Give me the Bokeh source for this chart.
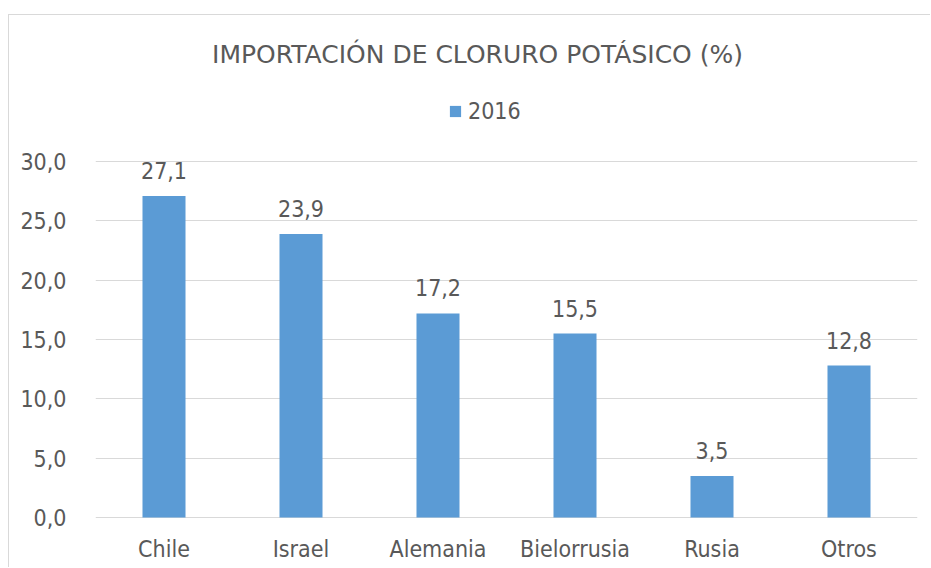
from bokeh.plotting import figure
from bokeh.layouts import column, row
from bokeh.models import (ColumnDataSource, FactorRange, Range1d, FixedTicker, LabelSet, Label,
                          Legend, LegendItem, Spacer)
from bokeh.core.properties import value
from bokeh.embed import file_html
from bokeh.resources import INLINE

# ---- data ----
categories = ["Chile", "Israel", "Alemania", "Bielorrusia", "Rusia", "Otros"]
values_2016 = [27.1, 23.9, 17.2, 15.5, 3.5, 12.8]
series_name = "2016"
title_text = "IMPORTACIÓN DE CLORURO POTÁSICO (%)"
y_ticks = [0, 5, 10, 15, 20, 25, 30]
y_tick_labels = ["0,0", "5,0", "10,0", "15,0", "20,0", "25,0", "30,0"]

FONT = "DejaVu Sans Condensed"
TITLE_FONT = "DejaVu Sans"
TXT = "#595959"
GRID = "#d9d9d9"
BAR = "#5b9bd5"

labels = [f"{v:.1f}".replace(".", ",") for v in values_2016]
src = ColumnDataSource(dict(cat=categories, val=values_2016, lab=labels,
                            zero=[0] * len(categories)))

# frame spans the whole canvas height; y=0 at 502px below the top, 11.867 px per unit
p = figure(x_range=FactorRange(*categories), y_range=Range1d(-4.298, 42.303),
           width=922, height=553, output_backend="svg", toolbar_location=None,
           min_border_left=86, min_border_right=14, min_border_top=0, min_border_bottom=0)
p.styles = {"border-left": f"1px solid {GRID}", "border-top": f"1px solid {GRID}"}
p.outline_line_color = None
p.background_fill_color = "white"
p.border_fill_color = "white"

r = p.vbar(x="cat", top="val", width=0.314, source=src, fill_color=BAR, line_color=None)

# axes
p.xaxis.visible = False
p.yaxis.ticker = FixedTicker(ticks=y_ticks)
p.yaxis.major_label_overrides = {t: l for t, l in zip(y_ticks, y_tick_labels)}
ax = p.yaxis[0]
ax.axis_line_color = None
ax.major_tick_line_color = None
ax.minor_tick_line_color = None
ax.major_label_text_font = FONT
ax.major_label_text_font_size = "23px"
ax.major_label_text_color = TXT
ax.major_label_standoff = 23
p.xgrid.grid_line_color = None
p.ygrid.ticker = FixedTicker(ticks=y_ticks)
p.ygrid.grid_line_color = GRID
p.ygrid.grid_line_width = 1

# category labels
p.add_layout(LabelSet(x="cat", y="zero", text="cat", source=src, text_align="center",
                      text_baseline="middle", y_offset=-32, text_font=value(FONT),
                      text_font_size=value("23px"), text_color=value(TXT)))

# data labels
p.add_layout(LabelSet(x="cat", y="val", text="lab", source=src, text_align="center",
                      text_baseline="alphabetic", y_offset=17, text_font=value(FONT),
                      text_font_size=value("23px"), text_color=value(TXT)))

# title
p.add_layout(Label(x=382, y=514, x_units="screen", y_units="screen", text=title_text,
                   text_align="center", text_baseline="middle", text_font=TITLE_FONT,
                   text_font_size="25px", text_color=TXT))

# legend
leg = Legend(items=[LegendItem(label=series_name, renderers=[r])], location=(353, 444),
             orientation="horizontal", glyph_width=14, glyph_height=14, label_height=14,
             label_text_font=FONT, label_text_font_size="23px", label_text_color=TXT,
             label_text_baseline="middle",
             border_line_color=None, background_fill_alpha=0, padding=0, margin=0,
             label_standoff=6)
p.add_layout(leg, "center")

layout = column(Spacer(height=14, width=10), row(Spacer(width=8, height=10), p, spacing=0),
                spacing=0)
open("out.html", "w").write(file_html(layout, INLINE))
